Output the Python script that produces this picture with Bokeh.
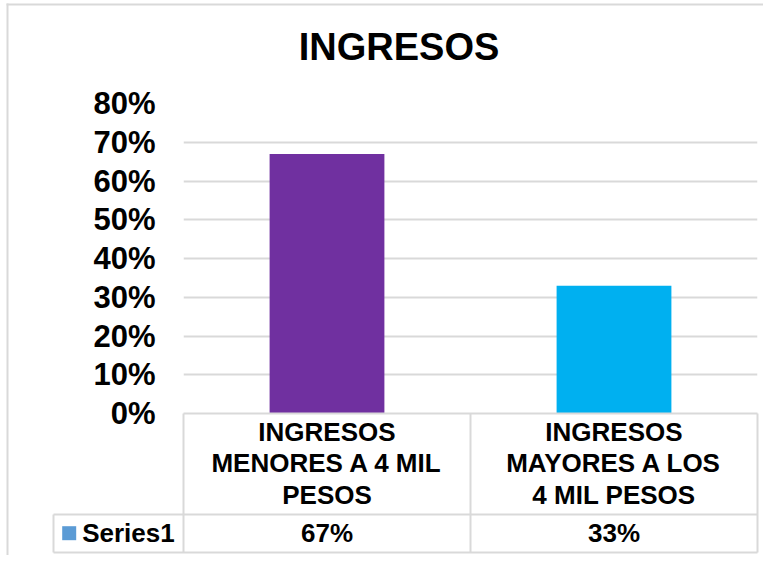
from bokeh.plotting import figure
from bokeh.models import FactorRange, Range1d, FixedTicker, NumeralTickFormatter
from bokeh.core.properties import value
from bokeh.embed import file_html
from bokeh.resources import INLINE

# ---------------- data ----------------
TITLE = "INGRESOS"
CATEGORIES = ["INGRESOS MENORES A 4 MIL PESOS", "INGRESOS MAYORES A LOS 4 MIL PESOS"]
CATEGORY_LINES = ["INGRESOS\nMENORES A 4 MIL\nPESOS", "INGRESOS\nMAYORES A LOS\n4 MIL PESOS"]
SERIES_NAME = "Series1"
VALUES = [0.67, 0.33]
BAR_COLORS = ["#7030A0", "#00B0F0"]
LEGEND_COLOR = "#5B9BD5"
Y_TICKS = [0, 0.1, 0.2, 0.3, 0.4, 0.5, 0.6, 0.7, 0.8]

# ---------------- layout helpers ----------------
FONT = value("Liberation Sans")
GRAY = "#D9D9D9"
W, H = 763, 555
FL, FR, FT, FB = 183, 757, 103, 413         # frame edges in figure pixels
XPX = (FR - FL) / len(CATEGORIES)           # px per category unit
YPX = (FB - FT) / (Y_TICKS[-1] - Y_TICKS[0])  # px per value unit


def dx(sx):  # figure pixel x -> data x
    return (sx - FL) / XPX


def dy(sy):  # figure pixel y -> data y
    return (FB - sy) / YPX


p = figure(x_range=FactorRange(*CATEGORIES), y_range=Range1d(Y_TICKS[0], Y_TICKS[-1]),
           width=W, height=H, output_backend="svg", toolbar_location=None,
           min_border_left=FL, min_border_right=W - FR, min_border_top=FT,
           min_border_bottom=H - FB)
p.outline_line_color = None
p.background_fill_color = "white"
p.border_fill_color = "white"

p.xaxis.visible = False
p.xgrid.grid_line_color = None
p.ygrid.grid_line_color = GRAY
p.ygrid.grid_line_width = 2

ya = p.yaxis[0]
ya.ticker = FixedTicker(ticks=Y_TICKS)
ya.formatter = NumeralTickFormatter(format="0%")
ya.axis_line_color = None
ya.major_tick_line_color = None
ya.minor_tick_line_color = None
ya.major_tick_out = 0
ya.major_tick_in = 0
ya.major_label_standoff = 28
ya.major_label_text_font = "Liberation Sans"
ya.major_label_text_font_style = "bold"
ya.major_label_text_font_size = "31px"
ya.major_label_text_color = "black"

# bars
p.vbar(x=CATEGORIES, top=VALUES, width=0.4, color=BAR_COLORS, line_color=None)

# outer chart border (top and left edges)
p.segment(x0=[dx(6), dx(7)], y0=[dy(4), dy(3)], x1=[dx(900), dx(7)], y1=[dy(4), dy(700)],
          line_color=GRAY, line_width=2, level="overlay")

# title
p.text(x=[dx(398.5)], y=[dy(46.5)], text=[TITLE], text_font=FONT, text_font_style="bold",
       text_font_size="38px", text_align="center", text_baseline="middle",
       text_color="black", level="overlay")

# data table lines
x_left, x_cat0, x_end = dx(53), 0, len(CATEGORIES)
y_top, y_mid, y_bot = 0, dy(514), dy(552)
hx0 = [x_cat0, x_left, x_left]
hx1 = [x_end, x_end, x_end]
hy = [y_top, y_mid, y_bot]
p.segment(x0=hx0, y0=hy, x1=hx1, y1=hy, line_color=GRAY, line_width=2, level="overlay")
vx = [x_left] + list(range(len(CATEGORIES) + 1))
vy0 = [y_mid] + [y_top] * (len(CATEGORIES) + 1)
p.segment(x0=vx, y0=vy0, x1=vx, y1=[y_bot] * len(vx), line_color=GRAY, line_width=2,
          level="overlay")

# category labels in the table
p.text(x=CATEGORIES, y=[dy(463)] * len(CATEGORIES), text=CATEGORY_LINES, text_font=FONT,
       text_font_style="bold", text_font_size="26px", text_align="center",
       text_baseline="middle", text_line_height=1.04, text_color="black", level="overlay")

# value row
p.text(x=CATEGORIES, y=[dy(532.5)] * len(CATEGORIES),
       text=[f"{round(v * 100)}%" for v in VALUES], text_font=FONT, text_font_style="bold",
       text_font_size="26px", text_align="center", text_baseline="middle",
       text_color="black", level="overlay")

# legend key (a short thick segment = 14px square) + series name
p.segment(x0=[dx(61.7)], y0=[dy(532.7)], x1=[dx(75.7)], y1=[dy(532.7)],
          line_color=LEGEND_COLOR, line_width=14, line_cap="butt", level="overlay")
p.text(x=[dx(81.7)], y=[dy(532.5)], text=[SERIES_NAME], text_font=FONT,
       text_font_style="bold", text_font_size="26px", text_align="left",
       text_baseline="middle", text_color="black", level="overlay")

open("out.html", "w").write(file_html(p, INLINE))
